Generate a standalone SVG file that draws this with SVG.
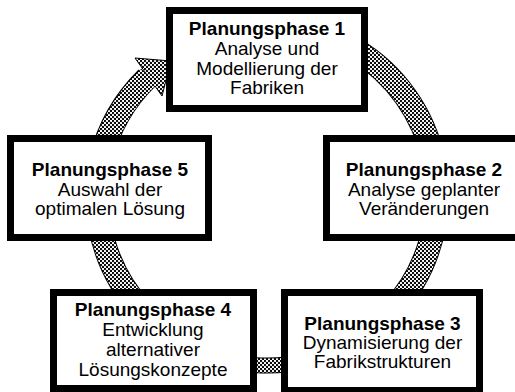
<svg xmlns="http://www.w3.org/2000/svg" width="515" height="392" viewBox="0 0 515 392">
  <defs>
    <!-- stipple fill for the cycle bands -->
    <pattern id="dots" width="4" height="4" patternUnits="userSpaceOnUse">
      <rect width="4" height="4" fill="#fff"/>
      <circle cx="1" cy="1" r="1.15" fill="#000"/>
      <circle cx="3" cy="3" r="1.15" fill="#000"/>
    </pattern>
  </defs>
  <style>
    .edge { fill: none; stroke: #000; stroke-width: 24; }
    .band { fill: none; stroke: url(#dots); stroke-width: 22; }
    .edge.thin { stroke-width: 16; }
    .band.thin { stroke-width: 14; }
    .head { fill: url(#dots); stroke: #000; stroke-width: 1; stroke-linejoin: miter; }
    .box { fill: #fff; stroke: #000; stroke-width: 7; }
    text { font-family: "Liberation Sans", Arial, sans-serif; font-size: 19px; fill: #000; text-anchor: middle; }
    .title { font-weight: bold; }
  </style>

  <rect width="515" height="392" fill="#fff"/>

  <!-- cycle bands between the phases -->
  <g id="connectors">
    <path class="edge" d="M 100.6 160 A 170 170 0 0 1 147 78"/>
    <path class="edge" d="M 355 49.5 A 170 170 0 0 1 433.4 160"/>
    <path class="edge" d="M 434.3 225 A 170 170 0 0 1 392.2 310"/>
    <path class="edge thin" d="M 310 360 A 170 170 0 0 1 225 360.2"/>
    <path class="edge" d="M 141.8 310 A 170 170 0 0 1 99.7 225"/>
    <polygon class="head" points="135,58 171,61 162,96"/>
    <path class="band" d="M 100.6 160 A 170 170 0 0 1 149 76.5"/>
    <path class="band" d="M 355 49.5 A 170 170 0 0 1 433.4 160"/>
    <path class="band" d="M 434.3 225 A 170 170 0 0 1 392.2 310"/>
    <path class="band thin" d="M 310 360 A 170 170 0 0 1 225 360.2"/>
    <path class="band" d="M 141.8 310 A 170 170 0 0 1 99.7 225"/>
  </g>

  <g id="phase1">
    <rect class="box" x="169.5" y="10.5" width="195" height="98"/>
    <text class="title" x="267" y="35">Planungsphase 1</text>
    <text x="267" y="55">Analyse und</text>
    <text x="267" y="74.5">Modellierung der</text>
    <text x="267" y="94">Fabriken</text>
  </g>

  <g id="phase2">
    <rect class="box" x="326.5" y="138.5" width="195" height="99"/>
    <text class="title" x="424" y="176">Planungsphase 2</text>
    <text x="424" y="196">Analyse geplanter</text>
    <text x="424" y="215">Veränderungen</text>
  </g>

  <g id="phase3">
    <rect class="box" x="284.5" y="292.5" width="195" height="98"/>
    <text class="title" x="382.5" y="330">Planungsphase 3</text>
    <text x="382.5" y="349">Dynamisierung der</text>
    <text x="382.5" y="368">Fabrikstrukturen</text>
  </g>

  <g id="phase4">
    <rect class="box" x="53.5" y="292.5" width="200" height="96"/>
    <text class="title" x="153" y="316">Planungsphase 4</text>
    <text x="153" y="336">Entwicklung</text>
    <text x="153" y="356">alternativer</text>
    <text x="153" y="376">Lösungskonzepte</text>
  </g>

  <g id="phase5">
    <rect class="box" x="10.5" y="138.5" width="198" height="99"/>
    <text class="title" x="110" y="176">Planungsphase 5</text>
    <text x="110" y="196">Auswahl der</text>
    <text x="110" y="215">optimalen Lösung</text>
  </g>
</svg>
